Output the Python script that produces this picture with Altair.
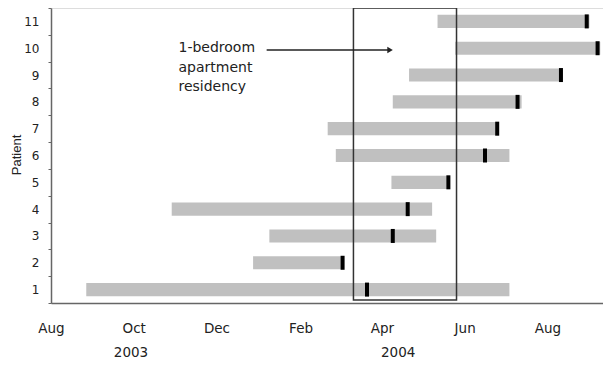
import altair as alt
import pandas as pd

# ---- data ----
patients = [1, 2, 3, 4, 5, 6, 7, 8, 9, 10, 11]
starts = ["2003-08-27", "2003-12-28", "2004-01-09", "2003-10-29", "2004-04-08", "2004-02-27",
          "2004-02-21", "2004-04-09", "2004-04-21", "2004-05-25", "2004-05-12"]
ends = ["2004-07-04", "2004-03-04", "2004-05-11", "2004-05-08", "2004-05-21", "2004-07-04",
        "2004-06-26", "2004-07-13", "2004-08-12", "2004-09-09", "2004-09-01"]
markers = ["2004-03-21", "2004-03-03", "2004-04-09", "2004-04-20", "2004-05-20", "2004-06-16",
           "2004-06-25", "2004-07-10", "2004-08-11", "2004-09-07", "2004-08-30"]

box_start = ["2004-03-11"]
box_end = ["2004-05-26"]
arrow_from = ["2004-01-07"]
arrow_to = ["2004-04-07"]
note_at = ["2003-11-03"]
note_lines = ["1-bedroom", "apartment", "residency"]
years = ["2003", "2004"]
year_at = ["2003-09-29", "2004-04-13"]

tick_dates = [(2003, 8), (2003, 10), (2003, 12), (2004, 2), (2004, 4), (2004, 6), (2004, 8)]

df = pd.DataFrame({"patient": patients, "start": starts, "end": ends, "marker": markers})
box_df = pd.DataFrame({"a": box_start, "b": box_end})
arrow_df = pd.DataFrame({"a": arrow_from, "b": arrow_to})
note_df = pd.DataFrame({"a": note_at})
year_df = pd.DataFrame({"year": years, "d": year_at})

xscale = alt.Scale(type="utc",
                   domain=[alt.DateTime(year=2003, month=8, date=1, utc=True),
                           alt.DateTime(year=2004, month=9, date=11, utc=True)])
xaxis = alt.Axis(values=[alt.DateTime(year=y, month=m, date=1, utc=True) for y, m in tick_dates],
                 labelExpr="utcFormat(datum.value, '%b')", labelFlush=False,
                 title=None, grid=False, ticks=False, tickSize=0,
                 labelPadding=25, labelBaseline="middle", labelFont="DejaVu Sans", labelFontSize=13.5,
                 labelColor="#222", domainColor="#666", domainWidth=1.5)
yaxis = alt.Axis(title="Patient", grid=False, tickBand="extent", tickSize=3, tickColor="#666",
                 domainColor="#666", domainWidth=1.5, labelPadding=9, labelFont="DejaVu Sans",
                 labelFontSize=12, labelColor="#222", labelAngle=0,
                 titleFont="Liberation Sans", titleFontSize=13, titleFontWeight="normal",
                 titleColor="#222", titleAngle=-90, titleX=-31, titleY=146.5,
                 titleBaseline="alphabetic", titleAlign="center")

base = alt.Chart(df)
bars = base.mark_bar(color="#c0c0c0", height=alt.RelativeBandSize(0.49)).encode(
    x=alt.X("start:T", scale=xscale, axis=xaxis),
    x2="end:T",
    y=alt.Y("patient:O", sort="descending", axis=yaxis,
            scale=alt.Scale(paddingInner=0, paddingOuter=0)),
)
ticks = base.mark_tick(color="black", thickness=4, size=14, opacity=1).encode(
    x="marker:T",
    y=alt.Y("patient:O", sort="descending"),
)
box = alt.Chart(box_df).mark_rect(filled=False, stroke="#333", strokeWidth=1.5).encode(
    x="a:T", x2="b:T", y=alt.value(0), y2=alt.value(292)
)
arrow = alt.Chart(arrow_df).mark_rule(color="#222", strokeWidth=1.5).encode(
    x="a:T", x2="b:T", y=alt.value(42)
)
head = alt.Chart(arrow_df).mark_point(shape="triangle-right", filled=True, color="#222",
                                      size=40, opacity=1).encode(
    x="b:T", y=alt.value(42)
)
note = alt.Chart(note_df).mark_text(text=note_lines, align="left", baseline="middle",
                                    lineHeight=19.4, font="DejaVu Sans", fontSize=14,
                                    color="#222").encode(
    x="a:T", y=alt.value(40.3)
)
yr = alt.Chart(year_df).mark_text(align="center", baseline="middle", font="DejaVu Sans",
                                  fontSize=13.5, color="#222").encode(
    x="d:T", y=alt.value(345), text="year:N"
)

chart = alt.layer(bars, ticks, box, arrow, head, note, yr).properties(
    width=552, height=295,
    padding={"left": 43, "top": 0, "right": 0, "bottom": 58},
    autosize=alt.AutoSizeParams(type="none"),
).configure_view(stroke=None).configure(background="white")

chart.save("out.html", embed_options={"renderer": "svg", "actions": False})
